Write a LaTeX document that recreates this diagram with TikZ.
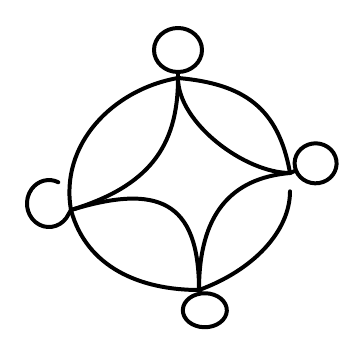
\documentclass[tikz,border=0pt]{standalone}
\begin{document}
\begin{tikzpicture}[x=0.03cm,y=0.03cm,line width=3.4pt,line cap=round,
  ring/.style={line join=round}]
  \useasboundingbox (0,0) rectangle (343,340);

  \coordinate (T) at (178,262);
  \coordinate (R) at (290,167);
  \coordinate (B) at (199,50);
  \coordinate (L) at (71,130);

  % outer arcs
  \draw (T) to[out=190,in=100] (L);
  \draw (T) to[out=-5,in=100,looseness=1.15] (R);
  \draw[shorten <=0.55cm] (R) to[out=-90,in=20] (B);
  \draw (L) to[out=-75,in=180] (B);

  % inner arcs
  \draw (T) to[out=270,in=17,out distance=2.1cm,in distance=2.4cm] (L);
  \draw (T) to[out=270,in=180,out distance=1.35cm,in distance=1.35cm] (R);
  \draw (R) to[out=185,in=90,out distance=1.8cm,in distance=2.25cm] (B);
  \draw (L) to[out=17,in=90,out distance=2.7cm,in distance=2.7cm] (B);

  % loops
  \draw[ring] (T) -- ++(0,6) arc[start angle=-90,delta angle=360,x radius=24,y radius=22];
  \draw[ring] (R) -- ++(6,2.5) arc[start angle=201,delta angle=360,x radius=21,y radius=20];
  \draw[ring] (B) -- ++(2,-3.5) arc[start angle=100,delta angle=360,x radius=22,y radius=17];
  \draw[ring] (L) -- ++(-4.7,-8) arc[start angle=-38,delta angle=-257,x radius=22,y radius=23.5];
\end{tikzpicture}
\end{document}
